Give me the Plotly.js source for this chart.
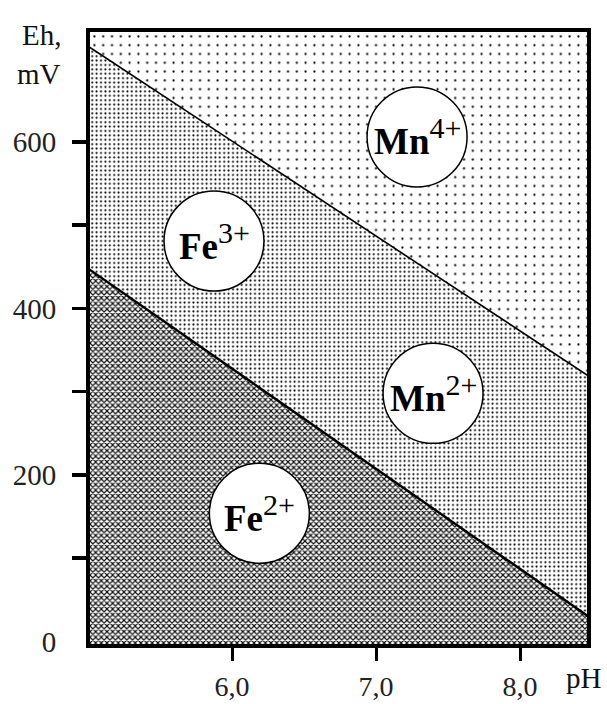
<!DOCTYPE html>
<html>
<head>
<meta charset="utf-8">
<script src="https://cdn.plot.ly/plotly-3.0.1.min.js"></script>
<style>html,body{margin:0;padding:0;background:#fff;}#chart{width:607px;height:704px;}</style>
</head>
<body>
<div id="chart"></div>
<script>
// Boundary lines (pH at the plot edges, Eh in mV)
var pH = [5.0, 8.5];
var ehFeBoundary = [448, 27];   // Fe2+ / Fe3+ boundary
var ehMnBoundary = [715, 316];  // Mn2+ / Mn4+ boundary
var ehFloor = [-50, -50];
var ehCeiling = [800, 800];

// Ion labels placed in the regions
var ionText = ['Mn', 'Fe', 'Mn', 'Fe'];
var ionCharge = ['4+', '3+', '2+', '2+'];
var ionPH = [7.285, 5.875, 7.396, 6.19];
var ionEh = [606, 481, 298, 154];

// Tick labels
var xTickVals = [6, 7, 8];
var xTickText = ['6,0', '7,0', '8,0'];
var yTickVals = [0, 200, 400, 600];
var yTickText = ['0', '200', '400', '600'];
var yMinorVals = [100, 200, 300, 400, 500, 600];

var serif = 'Liberation Serif, Times New Roman, serif';

var traces = [
  {x: pH, y: ehFloor, mode: 'lines', line: {width: 0}, hoverinfo: 'skip', showlegend: false},
  {x: pH, y: ehFeBoundary, mode: 'lines', fill: 'tonexty',
   line: {color: '#000', width: 2.4},
   fillpattern: {shape: 'x', size: 4, solidity: 0.5, fgcolor: '#111', bgcolor: '#fff'},
   hoverinfo: 'skip', showlegend: false},
  {x: pH, y: ehMnBoundary, mode: 'lines', fill: 'tonexty',
   line: {color: '#000', width: 1.6},
   fillpattern: {shape: '.', size: 4.4, solidity: 0.17, fgcolor: '#000', bgcolor: '#fff'},
   hoverinfo: 'skip', showlegend: false},
  {x: pH, y: ehCeiling, mode: 'lines', fill: 'tonexty',
   line: {width: 0},
   fillpattern: {shape: '.', size: 8.8, solidity: 0.05, fgcolor: '#000', bgcolor: '#fff'},
   hoverinfo: 'skip', showlegend: false}
];

var shapes = [];
var annotations = [];
for (var i = 0; i < ionText.length; i++) {
  shapes.push({type: 'circle', xref: 'x', yref: 'y', xsizemode: 'pixel', ysizemode: 'pixel',
    xanchor: ionPH[i], yanchor: ionEh[i], x0: -50, x1: 50, y0: -50, y1: 50,
    fillcolor: '#fff', line: {color: '#000', width: 1.5}});
  annotations.push({xref: 'x', yref: 'y', x: ionPH[i], y: ionEh[i], showarrow: false,
    text: '<b>' + ionText[i] + '</b><sup><span style="font-size:30px">' + ionCharge[i] + '</span></sup>',
    font: {family: serif, size: 37, color: '#000'}, xanchor: 'center', yanchor: 'middle'});
}
annotations.push({xref: 'paper', yref: 'paper', x: -0.055, y: 0.995, text: 'Eh,', showarrow: false,
  xanchor: 'right', yanchor: 'middle', font: {family: serif, size: 29, color: '#111'}});
annotations.push({xref: 'paper', yref: 'paper', x: -0.055, y: 0.932, text: 'mV', showarrow: false,
  xanchor: 'right', yanchor: 'middle', font: {family: serif, size: 29, color: '#111'}});
annotations.push({xref: 'paper', yref: 'paper', x: 0.994, y: -0.056, text: 'pH', showarrow: false,
  xanchor: 'center', yanchor: 'middle', font: {family: serif, size: 29, color: '#111'}});

var layout = {
  width: 607, height: 704,
  margin: {l: 90, r: 20, t: 32, b: 60},
  paper_bgcolor: '#fff', plot_bgcolor: '#fff',
  showlegend: false,
  font: {family: serif, size: 29, color: '#000'},
  xaxis: {range: [5.014, 8.465], showgrid: false, zeroline: false,
    showline: true, linewidth: 4, linecolor: '#000', mirror: true,
    tickmode: 'array', tickvals: xTickVals, ticktext: xTickText,
    ticks: 'outside', ticklen: 13, tickwidth: 3, tickcolor: '#000',
    ticklabelstandoff: 1,
    tickfont: {family: serif, size: 28, color: '#222'}},
  yaxis: {range: [-3, 732], showgrid: false, zeroline: false,
    showline: true, linewidth: 4, linecolor: '#000', mirror: true,
    tickmode: 'array', tickvals: yTickVals, ticktext: yTickText,
    ticks: '', ticklabelstandoff: 24,
    minor: {tickmode: 'array', tickvals: yMinorVals, ticks: 'outside', ticklen: 14, tickwidth: 3.5, tickcolor: '#000', showgrid: false},
    tickfont: {family: serif, size: 29, color: '#222'}},
  shapes: shapes,
  annotations: annotations
};

Plotly.newPlot('chart', traces, layout, {displayModeBar: false, staticPlot: true});
</script>
</body>
</html>
